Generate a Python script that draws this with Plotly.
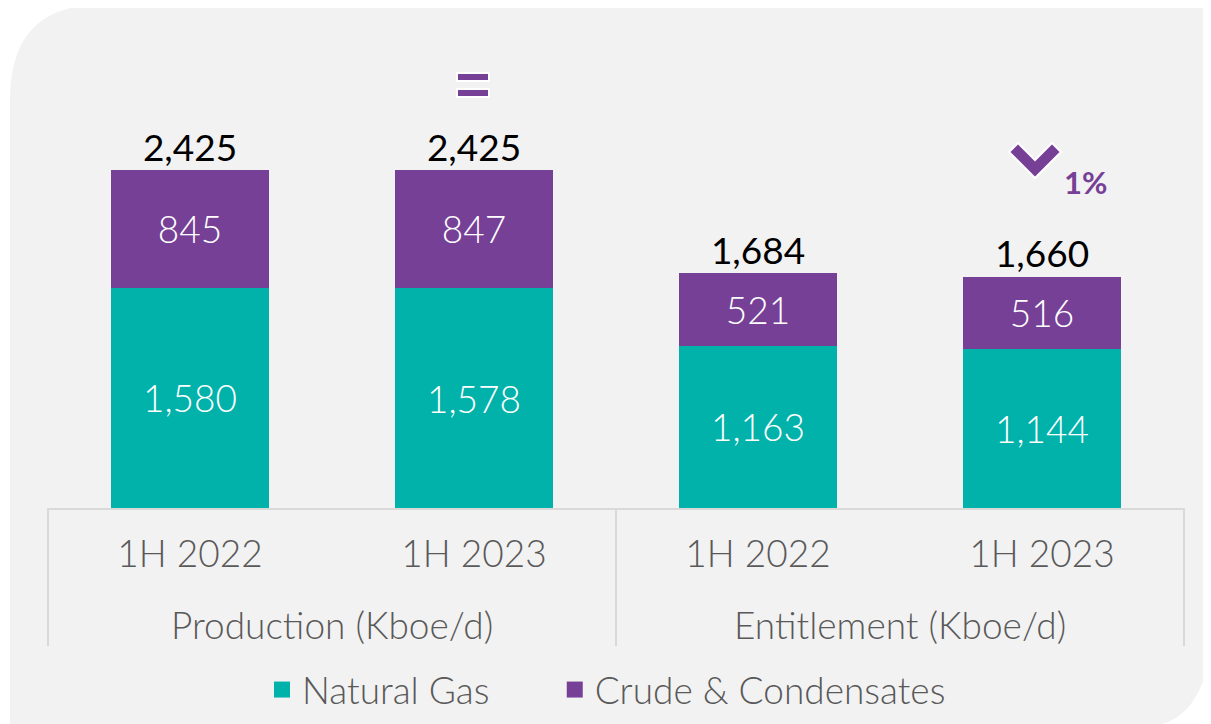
import plotly.graph_objects as go

# --- Data ---
GROUPS = ['Production (Kboe/d)', 'Entitlement (Kboe/d)']
CATEGORIES = ['prod_1h2022', 'prod_1h2023', 'ent_1h2022', 'ent_1h2023']
PERIODS = ['1H 2022', '1H 2023', '1H 2022', '1H 2023']
NATURAL_GAS = [1580, 1578, 1163, 1144]
CRUDE = [845, 847, 521, 516]
TOTALS = [2425, 2425, 1684, 1660]
SERIES_NAMES = ['Natural Gas', 'Crude & Condensates']

# --- Palette ---
COLOR_GAS = '#00b2aa'
COLOR_CRUDE = '#764096'
COLOR_PANEL = '#f2f2f2'
COLOR_LINES = '#d9d9d9'
COLOR_AXIS_TEXT = '#595959'
FONT = 'Lato'

# --- Geometry (page pixels; the figure sits 8px in because of body margin) ---
OFF = 8
PAGE_W, PAGE_H = 1211, 724
FIG_W, FIG_H = PAGE_W - OFF, PAGE_H - OFF
L, R, T, B = 47, 1185, 40, 508
YMAX = 3357


def px(x):
    return (x - L) / (R - L)


def py(y):
    return (B - y) / (B - T)


fig = go.Figure()

for vals, color in [(NATURAL_GAS, COLOR_GAS), (CRUDE, COLOR_CRUDE)]:
    fig.add_trace(go.Bar(
        x=CATEGORIES, y=vals, showlegend=False,
        marker=dict(color=color, line_width=0),
        texttemplate='%{y:,}', textposition='inside', insidetextanchor='middle',
        textfont=dict(color='white', size=37, family=FONT, weight=300),
    ))

fig.add_trace(go.Scatter(
    x=CATEGORIES, y=TOTALS, mode='text',
    text=[f'{v:,}' for v in TOTALS], textposition='top center',
    textfont=dict(color='black', size=37, family=FONT, weight=400),
    showlegend=False, hoverinfo='skip',
))

# legend entries with bigger square swatches
for name, color, pad in [(SERIES_NAMES[0], COLOR_GAS, 6), (SERIES_NAMES[1], COLOR_CRUDE, 0)]:
    fig.add_trace(go.Scatter(
        x=[None], y=[None], mode='markers', name=name + '\u00a0' * pad,
        marker=dict(symbol='square', size=20, color=color),
    ))

# rounded grey panel behind everything
panel = (f'M {px(10)},{py(100)} Q {px(10)},{py(5)} {px(100)},{py(5)} '
         f'L {px(1215)},{py(5)} L {px(1215)},{py(610)} '
         f'Q {px(1211)},{py(722)} {px(1150)},{py(726)} '
         f'L {px(10)},{py(726)} Z')
shapes = [dict(type='path', xref='paper', yref='paper', path=panel,
               fillcolor=COLOR_PANEL, line_width=0, layer='below')]

# group dividers below the axis
for xv in [-0.5, 1.5, 3.5]:
    shapes.append(dict(type='line', xref='x', yref='paper', x0=xv, x1=xv,
                       y0=py(508), y1=py(646),
                       line=dict(color=COLOR_LINES, width=2)))

# "unchanged" marker above 1H 2023 production
for y0, y1 in [(73, 81), (89, 97)]:
    shapes.append(dict(type='rect', xref='paper', yref='paper',
                       x0=px(457), x1=px(489), y0=py(y1), y1=py(y0),
                       fillcolor=COLOR_CRUDE, line=dict(color='white', width=2)))

# down chevron above 1H 2023 entitlement
chev = [(1009, 152), (1018, 143), (1035, 160), (1052, 143), (1061, 152), (1035, 178)]
chev_path = 'M ' + ' L '.join(f'{px(a)},{py(b)}' for a, b in chev) + ' Z'
shapes.append(dict(type='path', xref='paper', yref='paper', path=chev_path,
                   fillcolor=COLOR_CRUDE, line=dict(color='white', width=2)))

annotations = [dict(xref='paper', yref='paper', x=px(1085), y=py(182),
                    xanchor='center', yanchor='middle',
                    text='<b>1%</b>', showarrow=False,
                    font=dict(size=31, color=COLOR_CRUDE, family=FONT))]
for i, g in enumerate(GROUPS):
    annotations.append(dict(xref='x', yref='paper', x=2 * i + 0.5, y=py(624),
                            xanchor='center', yanchor='middle', text=g,
                            showarrow=False,
                            font=dict(size=37, color=COLOR_AXIS_TEXT,
                                      family=FONT, weight=300)))

fig.update_layout(
    width=FIG_W, height=FIG_H,
    margin=dict(l=L - OFF, r=PAGE_W - R, t=T - OFF, b=PAGE_H - B, pad=0,
                autoexpand=False),
    paper_bgcolor='white', plot_bgcolor='rgba(0,0,0,0)',
    barmode='stack', bargap=0.445,
    font=dict(family=FONT, color=COLOR_AXIS_TEXT),
    shapes=shapes,
    annotations=annotations,
    legend=dict(orientation='h', xref='container', yref='container',
                x=(262 - OFF) / FIG_W, xanchor='left',
                y=(PAGE_H - 690) / FIG_H, yanchor='middle',
                traceorder='normal', itemsizing='trace',
                font=dict(size=37, color=COLOR_AXIS_TEXT, weight=300),
                bgcolor='rgba(0,0,0,0)'),
    xaxis=dict(
        type='category', categoryorder='array', categoryarray=CATEGORIES,
        tickvals=CATEGORIES, ticktext=PERIODS,
        showline=True, linecolor=COLOR_LINES, linewidth=2,
        ticks='outside', ticklen=13, tickcolor='rgba(0,0,0,0)',
        tickfont=dict(size=37, color=COLOR_AXIS_TEXT, weight=300),
        showgrid=False, zeroline=False,
    ),
    yaxis=dict(range=[0, YMAX], visible=False, showgrid=False),
    showlegend=True,
)

fig.write_html('out.html')
